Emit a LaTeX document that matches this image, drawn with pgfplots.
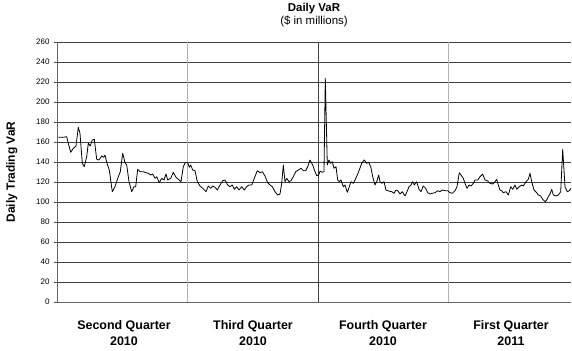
\documentclass[border=0pt]{standalone}
\usepackage{pgfplots}
\pgfplotsset{compat=1.18}
\usepackage{fontspec}
\setmainfont{Liberation Sans}
\pgfplotstableread{
x y
58.3 164.7
63.3 164.7
66.7 165.3
68.3 158.7
70.7 149.7
73.3 153.7
76 156
78.3 174.7
80 168.7
82.3 138.7
84.3 135.3
86.7 145.3
88.3 158.7
90.3 156
92.3 162
94.3 162.7
96.7 142.7
99 142
101.7 146
103.7 144.7
105 147
107 138.7
109.3 132
112.3 110.3
115 115.3
118.3 125.3
120.3 130.3
122.7 148.7
125 139.3
126.7 137
129 120.3
131.7 110.3
134 115.3
135.7 115.3
137.7 132.7
140 130.3
143.3 130.3
146 129.3
148.3 128.7
150.7 127
152.7 128
155 123.7
156.7 125.3
159.3 119.3
161.7 123.7
164 122
166 128
167.7 122
170.7 123.7
173.3 129.7
176 124.7
178.3 122.7
181 120.3
183.3 135.3
185.3 139.3
187.7 139.3
189.3 134.7
190.7 137
192.7 132
195 131.3
197.3 120.3
200 116
202.7 113.7
206 110.3
208.3 116
210.7 113.7
212.7 116
215 114.7
217.3 112
220 117
222.7 121.3
225 122
227.7 117
230 115.3
232.3 117
234.3 112.7
236.7 115.3
239 112
241.7 115.3
244.3 112
246.7 115.3
249 117
251.7 117
254.3 123.7
257.3 131.3
260 129.3
262.3 130.3
265 126
267.7 119.3
270 117
272.3 115.3
275 110.3
277.7 107
280 108
281.7 118.7
283.3 137
285 120.3
286.7 123.7
289 120.3
291 121.3
293.3 125.3
295.7 130.3
298.3 132
301 133.7
303.3 131.3
305.7 131.3
307.7 135.3
310 142
312.7 137
315 130.3
316.7 126.3
318.7 127
320 131
322 129.7
324 130.3
325.3 223.7
327.3 137
329 142
330.7 138.7
332.3 140.3
334 133.7
336 135.3
337.7 122
339.3 120.3
341 122
343.3 115.3
345 117
347.3 109.7
349.3 115.3
351 120.3
353.3 118.7
355 122
357.3 127
359.3 132
361.7 138.7
364.3 142
366.7 138.7
368.7 139.7
370.7 135.3
372.7 125.3
375 117
376.7 120.3
378.7 127
380 120.3
382 118.7
384 120.3
386 112
388.7 111
391.7 110.3
394 108.7
396 112
397.7 111.3
400 108
402.3 110.3
405 106
407 110.3
409 115.3
411 117
412.7 120.3
414.3 117
416.7 120.3
419 112.7
421 110.3
423.3 116
425.7 113.7
427.7 109.3
430 108
432.3 108.7
435 109.3
437.7 111.3
440 110.3
442.3 112
445 111.3
447.7 111.3
450 109.3
452.3 108.7
455 111.3
457 115.3
459.3 129.3
461 127
463.3 123.7
465 118.7
467 113.7
469 117
471 116
473.3 118.7
475 122
477.7 122
480 125.3
482.7 128
485 122
487.3 121.3
490 118.7
492.7 118
495 120.3
496.7 122.7
498.3 117
500 112
501.7 111.3
503.3 109.3
506 110.3
508.3 107
510.7 115.3
512.7 112.7
515 117
516.7 112.7
519.3 115.3
521.7 117
523.3 116
526 120.3
528.3 122.7
530 128.7
531.7 120.3
534 112
536.7 109.3
538.3 107
540.7 106
542.7 102.7
545 100.3
546.7 102
548.3 105.3
550 108
551.7 112.7
553.3 107
556 106
558.3 107
560.7 110.3
562.7 152.7
565 115.3
567.3 110.3
569.3 111.3
571 113.7
}\vardata
\begin{document}
\begin{tikzpicture}
\useasboundingbox (0,0) rectangle (572bp,351bp);
\begin{axis}[
  at={(57bp,49bp)}, anchor=south west,
  scale only axis, width=514bp, height=260bp,
  xmin=57, xmax=571, ymin=0, ymax=260,
  clip=false,
  axis x line=bottom, axis y line=left,
  axis line style={-, black!60, line width=0.8bp},
  ytick={0,20,...,260},
  ymajorgrids,
  major grid style={black!75, line width=0.6bp},
  y tick style={black!70, line width=0.6bp},
  tick align=outside, major tick length=3bp,
  yticklabel style={font=\fontsize{8}{9}\selectfont, xshift=-1bp},
  /pgf/number format/assume math mode=true,
  xtick={124,253,383,511},
  xticklabels={{Second Quarter\\2010},{Third Quarter\\2010},{Fourth Quarter\\2010},{First Quarter\\2011}},
  x tick style={draw=none},
  xticklabel style={font=\bfseries\fontsize{12.5}{16}\selectfont, align=center, yshift=-12bp},
  extra x ticks={187,448},
  extra x tick labels={},
  extra x tick style={grid=major, major grid style={black!30, line width=0.8bp}, tick style={draw=none}},
  ylabel={\bfseries Daily Trading VaR},
  ylabel style={at={(axis description cs:-0.088,0.5)}, anchor=center, font=\fontsize{12}{14}\selectfont},
  title={\bfseries Daily VaR\\\mdseries(\$ in millions)},
  title style={align=center, at={(axis description cs:0.5,1)}, anchor=south, yshift=6bp, font=\fontsize{11.5}{13}\selectfont},
]
\addplot[black!75, line width=0.6bp, forget plot] coordinates {(318,0) (318,260)};
\addplot[black, line width=0.8bp, line join=round] table[x=x,y=y] {\vardata};
\end{axis}
\end{tikzpicture}
\end{document}
